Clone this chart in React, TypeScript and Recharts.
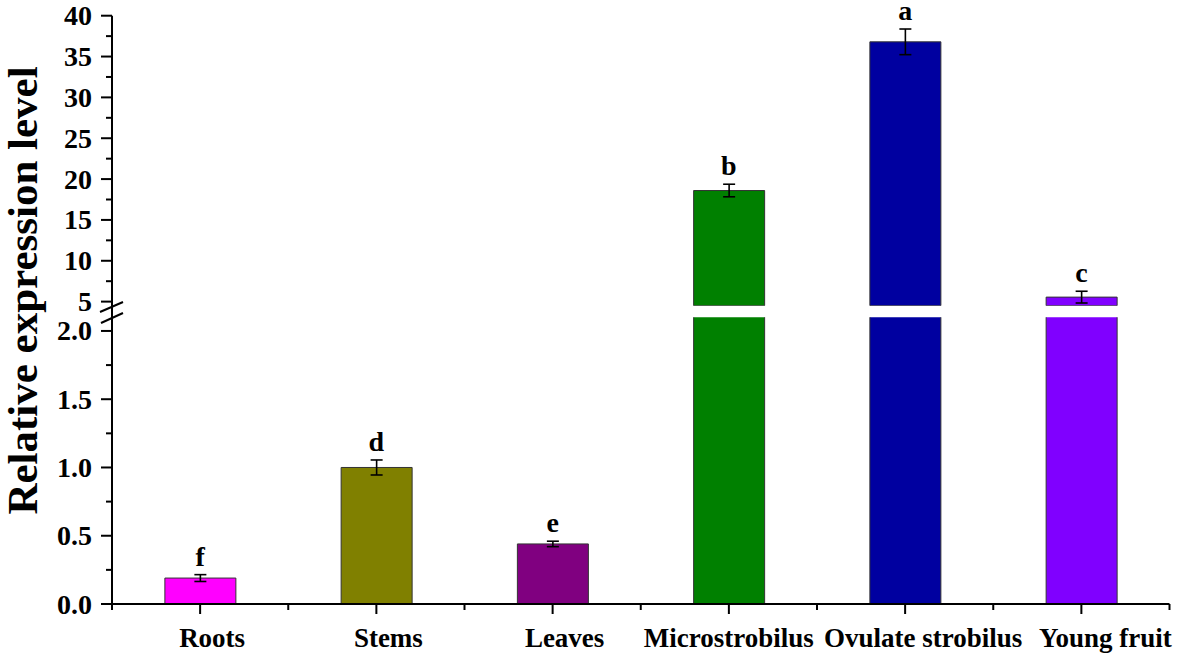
import React from "react";
import {
  ComposedChart,
  Bar,
  Line,
  XAxis,
  YAxis,
  Cell,
  ErrorBar,
  LabelList,
} from "recharts";

const categories = ["Roots", "Stems", "Leaves", "Microstrobilus", "Ovulate strobilus", "Young fruit"];
const values = [0.19, 1.0, 0.44, 18.6, 36.8, 5.55];
const errors = [0.025, 0.055, 0.02, 0.77, 1.57, 0.72];
const letters = ["f", "d", "e", "b", "a", "c"];
const colors = ["#FF00FF", "#808000", "#800080", "#008000", "#0000A0", "#8000FF"];

const upperTicks = [5, 7.5, 10, 12.5, 15, 17.5, 20, 22.5, 25, 27.5, 30, 32.5, 35, 37.5, 40];
const lowerTicks = [0, 0.25, 0.5, 0.75, 1.0, 1.25, 1.5, 1.75, 2.0];
const upperMajor = [5, 10, 15, 20, 25, 30, 35, 40];
const lowerMajor = [0, 0.5, 1.0, 1.5, 2.0];

const UPPER_DOMAIN: [number, number] = [4.5, 40];
const LOWER_DOMAIN: [number, number] = [0, 2.1];

const W = 1181;
const AXIS_LEFT = 112;
const RIGHT_M = 11.5;
const BAND = (W - AXIS_LEFT - RIGHT_M) / categories.length;
const FONT = "'Liberation Serif', 'Times New Roman', Times, serif";
// horizontal nudges of the category labels, as in the original figure
const LABEL_SHIFT = [12, 12, 12, 0, 18, 24];

const upperData = categories.map((c, i) => ({
  name: c,
  value: values[i] > UPPER_DOMAIN[0] ? values[i] : null,
  err: values[i] > UPPER_DOMAIN[0] ? errors[i] : null,
  top: values[i] > LOWER_DOMAIN[1] ? values[i] + errors[i] : null,
  letter: letters[i],
}));

const lowerData = categories.map((c, i) => ({
  name: c,
  value: values[i],
  err: values[i] <= LOWER_DOMAIN[1] ? errors[i] : null,
  top: values[i] <= LOWER_DOMAIN[1] ? values[i] + errors[i] : null,
  letter: letters[i],
}));

const makeYTick = (major: number[], fmt: (v: number) => string) => (props: any) => {
  const { x, y, payload } = props;
  const v = payload.value;
  const isMajor = major.some((m) => Math.abs(m - v) < 1e-9);
  return (
    <g>
      <line x1={x - (isMajor ? 11 : 6)} x2={x} y1={y} y2={y} stroke="#000" strokeWidth={2} />
      {isMajor && (
        <text
          x={x - 20}
          y={y}
          dy="0.34em"
          textAnchor="end"
          fontFamily={FONT}
          fontWeight="bold"
          fontSize={28}
          fill="#000"
        >
          {fmt(v)}
        </text>
      )}
    </g>
  );
};

const UpperTick = makeYTick(upperMajor, (v) => String(v));
const LowerTick = makeYTick(lowerMajor, (v) => v.toFixed(1));

const XTick = (props: any) => {
  const { x, y, payload, index } = props;
  const last = index === categories.length - 1;
  return (
    <g>
      <line x1={x} x2={x} y1={y} y2={y + 10} stroke="#000" strokeWidth={2} />
      <line x1={x - BAND / 2} x2={x - BAND / 2} y1={y} y2={y + 6} stroke="#000" strokeWidth={2} />
      {last && <line x1={x + BAND / 2} x2={x + BAND / 2} y1={y} y2={y + 6} stroke="#000" strokeWidth={2} />}
      <text
        x={x + (LABEL_SHIFT[index] || 0)}
        y={y + 43}
        textAnchor="middle"
        fontFamily={FONT}
        fontWeight="bold"
        fontSize={27}
        fill="#000"
      >
        {payload.value}
      </text>
    </g>
  );
};

const makeLetterLabel = (data: { top: number | null }[]) => (props: any) => {
  const { x, y, value, index } = props;
  if (index == null || data[index] == null || data[index].top == null) return null;
  if (y == null || Number.isNaN(y) || x == null) return null;
  return (
    <text
      x={x}
      y={y - 9}
      textAnchor="middle"
      fontFamily={FONT}
      fontWeight="bold"
      fontSize={28}
      fill="#000"
    >
      {value}
    </text>
  );
};

const UpperLetter = makeLetterLabel(upperData);
const LowerLetter = makeLetterLabel(lowerData);

export default function App() {
  return (
    <div style={{ position: "absolute", left: 0, top: 0, width: W, height: 658, background: "#fff" }}>
      <div style={{ position: "absolute", left: 0, top: 0 }}>
        <ComposedChart
          width={W}
          height={320}
          data={upperData}
          margin={{ top: 15.7, right: RIGHT_M, bottom: 14.3, left: 0 }}
          barCategoryGap="30%"
        >
          <XAxis dataKey="name" hide interval={0} />
          <YAxis
            width={AXIS_LEFT}
            domain={UPPER_DOMAIN}
            ticks={upperTicks}
            allowDataOverflow
            interval={0}
            tickSize={0}
            tickMargin={0}
            tickLine={false}
            axisLine={{ stroke: "#000", strokeWidth: 2 }}
            tick={UpperTick}
          />
          <Bar dataKey="value" isAnimationActive={false} stroke="#333" strokeWidth={1}>
            {upperData.map((d, i) => (
              <Cell key={d.name} fill={colors[i]} />
            ))}
            <ErrorBar dataKey="err" direction="y" width={6} stroke="#000" strokeWidth={1.6} />
          </Bar>
          <Line dataKey="top" stroke="none" dot={false} activeDot={false} isAnimationActive={false} legendType="none">
            <LabelList dataKey="letter" content={UpperLetter} />
          </Line>
        </ComposedChart>
      </div>
      <div style={{ position: "absolute", left: 0, top: 300 }}>
        <ComposedChart
          width={W}
          height={358}
          data={lowerData}
          margin={{ top: 17.3, right: RIGHT_M, bottom: 0, left: 0 }}
          barCategoryGap="30%"
        >
          <XAxis
            dataKey="name"
            interval={0}
            height={54}
            tickSize={0}
            tickMargin={0}
            tickLine={false}
            axisLine={{ stroke: "#000", strokeWidth: 2 }}
            tick={XTick}
          />
          <YAxis
            width={AXIS_LEFT}
            domain={LOWER_DOMAIN}
            ticks={lowerTicks}
            allowDataOverflow
            interval={0}
            tickSize={0}
            tickMargin={0}
            tickLine={false}
            axisLine={{ stroke: "#000", strokeWidth: 2 }}
            tick={LowerTick}
          />
          <Bar dataKey="value" isAnimationActive={false} stroke="#333" strokeWidth={1}>
            {lowerData.map((d, i) => (
              <Cell key={d.name} fill={colors[i]} />
            ))}
            <ErrorBar dataKey="err" direction="y" width={6} stroke="#000" strokeWidth={1.6} />
          </Bar>
          <Line dataKey="top" stroke="none" dot={false} activeDot={false} isAnimationActive={false} legendType="none">
            <LabelList dataKey="letter" content={LowerLetter} />
          </Line>
        </ComposedChart>
      </div>
      <svg
        width={W}
        height={658}
        style={{ position: "absolute", left: 0, top: 0, pointerEvents: "none" }}
      >
        <line x1={AXIS_LEFT} x2={AXIS_LEFT} y1={305} y2={318} stroke="#000" strokeWidth={2} />
        <line x1={100} y1={312} x2={123} y2={302} stroke="#000" strokeWidth={2} />
        <line x1={101} y1={323} x2={123} y2={313} stroke="#000" strokeWidth={2} />
        <text
          transform="translate(37, 290.5) rotate(-90)"
          textAnchor="middle"
          fontFamily={FONT}
          fontWeight="bold"
          fontSize={43}
          fill="#000"
        >
          Relative expression level
        </text>
      </svg>
    </div>
  );
}
